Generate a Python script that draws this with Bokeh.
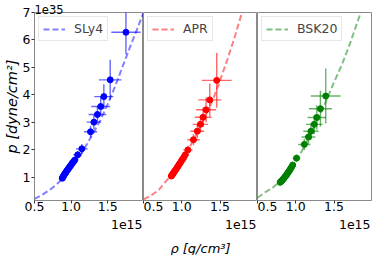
from bokeh.plotting import figure
from bokeh.models import Range1d, Title, FixedTicker, ColumnDataSource, GlobalInlineStyleSheet
from bokeh.layouts import row
from bokeh.embed import file_html
from bokeh.resources import INLINE

# ---------------- data (rho in 1e15 g/cm^3, p in 1e35 dyne/cm^2) ----------------
x_ticks = [0.5, 1.0, 1.5]
x_tick_labels = ["0.5", "1.0", "1.5"]
y_ticks = [1, 2, 3, 4, 5, 6, 7]
y_tick_labels = ["1", "2", "3", "4", "5", "6", "7"]

curve_rho = [0.50, 0.60, 0.70, 0.80, 0.90, 1.00, 1.10, 1.20, 1.30, 1.40, 1.50, 1.60, 1.70, 1.80, 1.90, 2.00]
sly4_curve_p = [0.22, 0.36, 0.53, 0.74, 1.00, 1.32, 1.70, 2.13, 2.60, 3.08, 3.66, 4.30, 5.00, 5.70, 6.38, 7.06]
apr_curve_p = [0.20, 0.34, 0.55, 0.88, 1.20, 1.60, 2.08, 2.62, 3.18, 3.78, 4.52, 5.32, 6.18, 7.12, 8.15, 9.25]
bsk20_curve_p = [0.26, 0.46, 0.63, 0.86, 1.18, 1.58, 2.06, 2.60, 3.18, 3.80, 4.46, 5.08, 5.80, 6.60, 7.40, 8.20]

sly4_rho = [1.75, 1.535, 1.448, 1.405, 1.36, 1.312, 1.266, 1.147, 1.09,
            1.05, 1.035, 1.02, 1.005, 0.99, 0.977, 0.965, 0.953, 0.942, 0.932, 0.922, 0.912, 0.903, 0.894, 0.886, 0.879]
sly4_p = [6.28, 4.55, 3.94, 3.58, 3.29, 3.01, 2.66, 2.04, 1.82,
          1.63, 1.58, 1.53, 1.47, 1.42, 1.37, 1.32, 1.28, 1.24, 1.20, 1.16, 1.12, 1.08, 1.04, 1.00, 0.97]
sly4_rho_err = [0.20, 0.155, 0.13, 0.13, 0.12, 0.10, 0.09, 0.08, 0.06,
                0.04, 0.035, 0.03, 0.03, 0.03, 0.025, 0.025, 0.02, 0.02, 0.02, 0.02, 0.02, 0.015, 0.015, 0.015, 0.015]
sly4_p_err = [0.80, 0.73, 0.45, 0.35, 0.30, 0.25, 0.22, 0.18, 0.14,
              0.09, 0.08, 0.07, 0.07, 0.06, 0.06, 0.05, 0.05, 0.05, 0.04, 0.04, 0.04, 0.04, 0.03, 0.03, 0.03]

apr_rho = [1.457, 1.366, 1.318, 1.279, 1.244, 1.203, 1.153, 1.08, 1.045,
           1.025, 1.01, 0.995, 0.98, 0.965, 0.952, 0.94, 0.928, 0.917, 0.906, 0.896, 0.887, 0.879, 0.871, 0.864]
apr_p = [4.53, 3.82, 3.46, 3.19, 2.93, 2.68, 2.37, 2.00, 1.82,
         1.72, 1.66, 1.60, 1.53, 1.47, 1.41, 1.36, 1.31, 1.26, 1.22, 1.18, 1.14, 1.11, 1.08, 1.05]
apr_rho_err = [0.195, 0.15, 0.13, 0.11, 0.10, 0.09, 0.08, 0.06, 0.05,
               0.04, 0.035, 0.03, 0.03, 0.03, 0.025, 0.025, 0.02, 0.02, 0.02, 0.02, 0.015, 0.015, 0.015, 0.015]
apr_p_err = [1.00, 0.60, 0.45, 0.35, 0.30, 0.25, 0.20, 0.15, 0.12,
             0.09, 0.08, 0.07, 0.07, 0.06, 0.06, 0.05, 0.05, 0.05, 0.04, 0.04, 0.04, 0.03, 0.03, 0.03]

bsk20_rho = [1.392, 1.322, 1.275, 1.242, 1.199, 1.166, 1.112, 1.01,
             0.96, 0.948, 0.935, 0.922, 0.91, 0.898, 0.886, 0.874, 0.862, 0.85, 0.839, 0.828, 0.817, 0.806, 0.796]
bsk20_p = [3.96, 3.50, 3.18, 2.93, 2.68, 2.47, 2.20, 1.70,
           1.45, 1.39, 1.33, 1.27, 1.22, 1.17, 1.12, 1.07, 1.03, 0.99, 0.95, 0.91, 0.88, 0.85, 0.82]
bsk20_rho_err = [0.195, 0.15, 0.12, 0.11, 0.10, 0.09, 0.08, 0.05,
                 0.035, 0.03, 0.03, 0.03, 0.025, 0.025, 0.02, 0.02, 0.02, 0.02, 0.015, 0.015, 0.015, 0.015, 0.015]
bsk20_p_err = [1.00, 0.65, 0.45, 0.35, 0.30, 0.25, 0.20, 0.13,
               0.08, 0.07, 0.07, 0.06, 0.06, 0.05, 0.05, 0.05, 0.04, 0.04, 0.04, 0.03, 0.03, 0.03, 0.03]

x_offset_text = "1e15"
y_offset_text = "1e35"
x_label = "ρ [g/cm³]"
y_label = "p [dyne/cm²]"

FONT = "DejaVu Sans"
FS = "12.5px"
TOP = 12
BOTTOM = 70
FRAME_H = 188
y_range = Range1d(0.16, 7.0)


def panel(width, bl, br, show_y, rho, p, rerr, perr, cp, color, name):
    fig = figure(width=width, height=TOP + FRAME_H + BOTTOM, x_range=Range1d(0.5, 1.99), y_range=y_range,
                 output_backend="svg", toolbar_location=None,
                 min_border_left=bl, min_border_right=br, min_border_top=TOP, min_border_bottom=BOTTOM,
                 y_axis_location="left" if show_y else None)
    fig.grid.visible = False
    fig.outline_line_color = "#8a8a8a"
    fig.outline_line_width = 1
    fig.background_fill_color = "white"
    fig.border_fill_color = "white"

    src = ColumnDataSource(dict(
        x=rho, y=p,
        x0=[a - b for a, b in zip(rho, rerr)], x1=[a + b for a, b in zip(rho, rerr)],
        y0=[a - b for a, b in zip(p, perr)], y1=[a + b for a, b in zip(p, perr)],
    ))
    fig.line(curve_rho, cp, line_color=color, line_alpha=0.5, line_width=2,
             line_dash="6 3", legend_label=name)
    fig.segment(x0="x0", y0="y", x1="x1", y1="y", source=src, line_color=color, line_alpha=0.6, line_width=1.4)
    fig.segment(x0="x", y0="y0", x1="x", y1="y1", source=src, line_color=color, line_alpha=0.6, line_width=1.4)
    fig.scatter("x", "y", source=src, size=6, fill_color=color, line_color=color)

    axes = [fig.xaxis[0]] + (list(fig.yaxis) if show_y else [])
    for ax in axes:
        ax.axis_line_color = None
        ax.major_tick_line_color = "#333333"
        ax.major_tick_out = 3
        ax.major_tick_in = 0
        ax.minor_tick_line_color = None
        ax.major_label_text_font = FONT
        ax.major_label_text_font_size = FS
        ax.major_label_text_color = "black"
    xa = fig.xaxis[0]
    xa.ticker = FixedTicker(ticks=x_ticks)
    xa.major_label_overrides = dict(zip(x_ticks, x_tick_labels))
    xa.major_label_standoff = -2
    if show_y:
        ya = fig.yaxis[0]
        ya.ticker = FixedTicker(ticks=y_ticks)
        ya.major_label_overrides = dict(zip(y_ticks, y_tick_labels))
        ya.major_label_standoff = 1
        ya.axis_label = y_label
        ya.axis_label_standoff = 0
        ya.axis_label_text_font = FONT
        ya.axis_label_text_font_size = "14.5px"
        ya.axis_label_text_font_style = "italic"
        ya.axis_label_text_color = "black"

    fig.add_layout(Title(text=x_offset_text, align="right", standoff=8, offset=1,
                         text_font=FONT, text_font_size=FS, text_font_style="normal",
                         text_color="black"), "below")

    lg = fig.legend[0]
    lg.location = "top_left"
    lg.margin = 4
    lg.padding = 4
    lg.spacing = 0
    lg.glyph_width = 22
    lg.glyph_height = 12
    lg.label_height = 12
    lg.label_standoff = 9
    lg.label_text_font = FONT
    lg.label_text_font_size = FS
    lg.border_line_color = "#d0d0d0"
    lg.background_fill_alpha = 0.8
    return fig


p1 = panel(143, 28, 0, True, sly4_rho, sly4_p, sly4_rho_err, sly4_p_err, sly4_curve_p, "#0000ff", "SLy4")
p2 = panel(114, 0, 0, False, apr_rho, apr_p, apr_rho_err, apr_p_err, apr_curve_p, "#ff0000", "APR")
p3 = panel(117, 0, 3, False, bsk20_rho, bsk20_p, bsk20_rho_err, bsk20_p_err, bsk20_curve_p, "#008000", "BSK20")

p1.add_layout(Title(text=y_offset_text, align="left", standoff=-3,
                    text_font=FONT, text_font_size="11.5px", text_font_style="normal",
                    text_color="black"), "above")
p2.add_layout(Title(text=x_label, align="center", standoff=12,
                    text_font=FONT, text_font_size="13px", text_font_style="italic",
                    text_color="black"), "below")

css = "html, body { margin: 0 !important; padding: 0 !important; overflow: hidden !important; }"
layout = row(p1, p2, p3, spacing=0, stylesheets=[GlobalInlineStyleSheet(css=css)])
open("out.html", "w").write(file_html(layout, INLINE))
